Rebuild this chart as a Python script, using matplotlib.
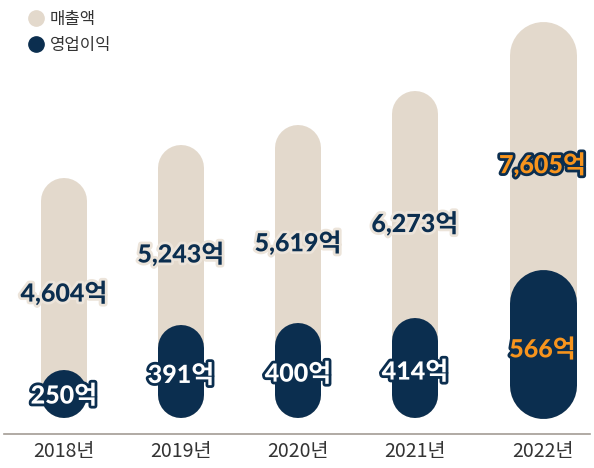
#!/usr/bin/env python3
'''
Revenue / operating profit pill chart, 2018-2022
'''
import matplotlib
matplotlib.use('Agg')
import matplotlib.pyplot as plt
import matplotlib.patheffects as pe
from matplotlib.lines import Line2D

YEARS = ['2018년', '2019년', '2020년', '2021년', '2022년']
REVENUE = [4604, 5243, 5619, 6273, 7605]
PROFIT = [250, 391, 400, 414, 566]
REVENUE_LABELS = ['4,604억', '5,243억', '5,619억', '6,273억', '7,605억']
PROFIT_LABELS = ['250억', '391억', '400억', '414억', '566억']

BEIGE = '#e3d9cc'
NAVY = '#0b2e4f'
ORANGE = '#f7941d'
TEXT = '#333333'
AXIS = '#a39c95'

DPI = 100
W_PX, H_PX = 594, 468
BAR_PX = [46, 46, 46, 46, 67]      # bar widths in pixels
STEP_PX = 117                       # spacing of bar left edges
REV_UNITS_PER_PX = 19.2
PROFIT_PX_PER_UNIT = 0.318
PROFIT_BASE = 100

NUM_FONT = ['Lato', 'Noto Sans CJK KR']
KR_FONT = ['Noto Sans CJK KR', 'DejaVu Sans']


def pill(ax, x, y0, y1, width_px, units_per_px, color, z):
    ''' Draw a rounded bar as a thick line with round caps '''
    r = width_px / 2 * units_per_px
    top = max(y1 - r, y0 + r)
    ax.plot([x, x], [y0 + r, top], color=color, lw=width_px * 72 / DPI,
            solid_capstyle='round', zorder=z)


def main():
    fig = plt.figure(figsize=(W_PX / DPI, H_PX / DPI), dpi=DPI)
    fig.set_facecolor('white')

    # axes: bottom spine at pixel row 434, baseline (0) at row 418
    left_px, right_px, spine_px, base_px = 4, 590, 434, 418
    ax = fig.add_axes([left_px / W_PX, (H_PX - spine_px) / H_PX,
                       (right_px - left_px) / W_PX, spine_px / H_PX])
    first_center = 64
    ax.set_xlim((left_px - first_center) / STEP_PX,
                (right_px - first_center) / STEP_PX)
    ax.set_ylim(-(spine_px - base_px) * REV_UNITS_PER_PX,
                base_px * REV_UNITS_PER_PX)

    ax2 = ax.twinx()
    ax2.set_ylim(PROFIT_BASE - (spine_px - base_px) / PROFIT_PX_PER_UNIT,
                 PROFIT_BASE + base_px / PROFIT_PX_PER_UNIT)
    ax2.set_zorder(ax.get_zorder() + 1)
    ax2.patch.set_visible(False)

    centers = [i + (w - BAR_PX[0]) / 2 / STEP_PX for i, w in enumerate(BAR_PX)]

    for i, x in enumerate(centers):
        w = BAR_PX[i]
        pill(ax, x, 0, REVENUE[i], w, REV_UNITS_PER_PX, BEIGE, 1)
        pill(ax2, x, PROFIT_BASE, PROFIT[i], w, 1 / PROFIT_PX_PER_UNIT, NAVY, 2)

        last = i == len(centers) - 1
        rev_color = ORANGE if last else NAVY
        rev_edge = NAVY if last else '#ece4da'

        # revenue label: between the two pill tops, a bit lower
        rev_top = ax.transData.transform((x, REVENUE[i]))[1]
        prof_top = ax2.transData.transform((x, PROFIT[i]))[1]
        ly = ax.transData.inverted().transform(
            (0, (rev_top + prof_top) / 2 - 19))[1]
        ax.text(x, ly, REVENUE_LABELS[i], ha='center',
                va='center', fontsize=18, fontweight='black', family=NUM_FONT,
                color=rev_color, zorder=5,
                path_effects=[pe.withStroke(linewidth=4, foreground=rev_edge)])

        prof_color = ORANGE if last else 'white'
        py = PROFIT_BASE + (PROFIT[i] - PROFIT_BASE) * 0.46
        ax2.text(x, py, PROFIT_LABELS[i], ha='center', va='center',
                 fontsize=18, fontweight='black', family=NUM_FONT,
                 color=prof_color, zorder=5,
                 path_effects=[pe.withStroke(linewidth=4, foreground=NAVY)])

    # axis styling
    for a in (ax, ax2):
        for side in ('top', 'right', 'left'):
            a.spines[side].set_visible(False)
        a.set_yticks([])
    ax2.spines['bottom'].set_visible(False)
    ax.spines['bottom'].set_color(AXIS)
    ax.spines['bottom'].set_linewidth(1.2)
    ax.set_xticks(centers)
    ax.set_xticklabels(YEARS, family=KR_FONT, fontsize=14,
                       fontweight='medium', color=TEXT)
    ax.tick_params(axis='x', length=0, pad=5)

    handles = [Line2D([], [], ls='none', marker='o', markersize=11,
                      color=BEIGE),
               Line2D([], [], ls='none', marker='o', markersize=11,
                      color=NAVY)]
    fig.legend(handles, ['매출액', '영업이익'], loc='upper left',
               bbox_to_anchor=(18 / W_PX, 1 + 1 / H_PX), frameon=False,
               prop={'family': KR_FONT, 'size': 12}, labelcolor=TEXT,
               handlelength=0.8, handletextpad=0.4, labelspacing=0.55,
               borderpad=0.2)

    fig.savefig('out.png', dpi=DPI)


if __name__ == '__main__':
    main()
